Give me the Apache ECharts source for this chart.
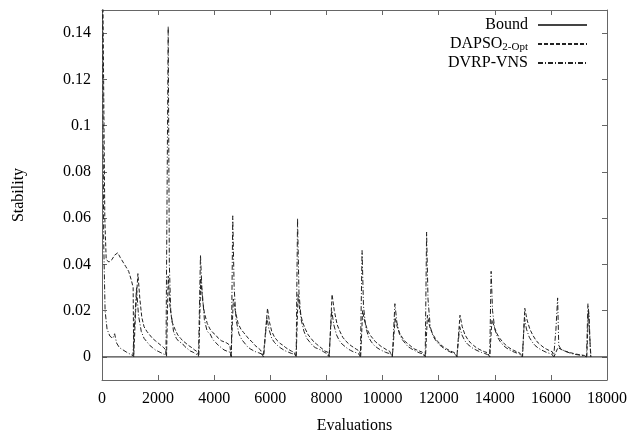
<!DOCTYPE html>
<html><head><meta charset="utf-8">
<script src="https://cdn.jsdelivr.net/npm/echarts@6/dist/echarts.min.js"></script>
<style>html,body{margin:0;padding:0;background:#fff}#c{width:642px;height:435px}</style>
</head><body><div id="c"></div>
<script>
const seriesNames = ['Bound', 'DAPSO2-Opt', 'DVRP-VNS'];
const xLabelValues = [0, 2000, 4000, 6000, 8000, 10000, 12000, 14000, 16000, 18000];
const yLabelValues = [0, 0.02, 0.04, 0.06, 0.08, 0.1, 0.12, 0.14];

const boundData = [[0, 0], [18000, 0]];

const dapsoData = [
  [0,0.2],[100,0.06],[150,0.042],[250,0.041],[350,0.042],[450,0.044],[560,0.045],[650,0.043],[750,0.041],[850,0.039],[950,0.037],[1050,0.033],[1110,0.03],[1130,0.0],
  [1150,0.0],[1200,0.02],[1280,0.036],[1350,0.025],[1420,0.017],[1500,0.013],[1600,0.011],[1700,0.0095],[1800,0.008],[1900,0.007],[2000,0.006],[2100,0.005],[2200,0.004],[2270,0.003],[2300,0.0],
  [2320,0.0],[2360,0.035],[2420,0.022],[2500,0.015],[2600,0.012],[2700,0.0095],[2800,0.008],[2900,0.0068],[3000,0.0058],[3100,0.0048],[3200,0.004],[3300,0.003],[3400,0.0022],[3450,0.0],
  [3470,0.0],[3520,0.034],[3580,0.025],[3650,0.019],[3750,0.0145],[3850,0.012],[3950,0.0105],[4050,0.0095],[4150,0.008],[4250,0.007],[4350,0.0065],[4450,0.006],[4560,0.005],[4600,0.0],
  [4620,0.0],[4680,0.025],[4750,0.02],[4850,0.0145],[4950,0.012],[5050,0.0105],[5150,0.009],[5250,0.0075],[5350,0.0065],[5450,0.005],[5550,0.004],[5650,0.003],[5750,0.0],
  [5780,0.0],[5900,0.021],[5970,0.015],[6050,0.011],[6150,0.0085],[6250,0.007],[6350,0.0058],[6450,0.005],[6550,0.004],[6650,0.0032],[6750,0.0025],[6850,0.002],[6920,0.0],
  [6940,0.0],[6990,0.027],[7050,0.02],[7150,0.015],[7250,0.012],[7350,0.0095],[7450,0.008],[7550,0.0065],[7650,0.0055],[7750,0.0045],[7850,0.0035],[7950,0.0025],[8050,0.002],[8100,0.0],
  [8120,0.0],[8200,0.027],[8280,0.02],[8380,0.014],[8480,0.011],[8580,0.0085],[8680,0.007],[8780,0.0058],[8880,0.0048],[8980,0.004],[9080,0.0032],[9180,0.0025],[9220,0.0],
  [9230,0.0],[9290,0.02],[9350,0.016],[9450,0.012],[9550,0.0095],[9650,0.008],[9750,0.0065],[9850,0.0055],[9950,0.0045],[10050,0.0038],[10150,0.003],[10250,0.0025],[10350,0.0],
  [10370,0.0],[10450,0.017],[10520,0.013],[10620,0.01],[10720,0.008],[10820,0.0065],[10920,0.0055],[11020,0.0045],[11120,0.0035],[11220,0.003],[11320,0.0025],[11420,0.002],[11530,0.0],
  [11550,0.0],[11600,0.018],[11680,0.013],[11780,0.01],[11880,0.008],[11980,0.0065],[12080,0.0052],[12180,0.0042],[12280,0.0035],[12380,0.0028],[12480,0.0022],[12580,0.0018],[12650,0.0],
  [12660,0.0],[12760,0.018],[12840,0.013],[12940,0.0095],[13040,0.0075],[13140,0.006],[13240,0.005],[13340,0.004],[13440,0.0033],[13540,0.0027],[13640,0.0022],[13740,0.0018],[13820,0.0],
  [13840,0.0],[13900,0.016],[13980,0.013],[14080,0.01],[14180,0.008],[14280,0.0065],[14380,0.0052],[14480,0.0042],[14580,0.0034],[14680,0.0028],[14780,0.0022],[14880,0.0018],[14990,0.0],
  [15010,0.0],[15070,0.021],[15150,0.016],[15250,0.012],[15350,0.0095],[15450,0.0075],[15550,0.006],[15650,0.005],[15750,0.004],[15850,0.0033],[15950,0.0027],[16050,0.0022],[16110,0.0],
  [16130,0.0],[16250,0.004],[16300,0.0035],[16400,0.003],[16500,0.0025],[16600,0.0022],[16700,0.0018],[16800,0.0015],[16900,0.0012],[17000,0.001],[17100,0.0008],[17200,0.0006],[17280,0.0],
  [17300,0.0],[17340,0.02],[17380,0.01],[17420,0.0]
];

const dvrpData = [
  [0,0.2],[60,0.05],[110,0.02],[180,0.012],[280,0.009],[380,0.008],[450,0.01],[520,0.006],[620,0.004],[750,0.003],[880,0.002],[1000,0.0012],[1100,0.0005],[1150,0.0],
  [1170,0.0],[1230,0.03],[1300,0.018],[1400,0.011],[1500,0.008],[1600,0.0065],[1700,0.005],[1800,0.004],[1900,0.003],[2000,0.0024],[2100,0.0018],[2200,0.0012],[2280,0.0008],[2310,0.0],
  [2320,0.0],[2360,0.143],[2400,0.04],[2450,0.02],[2550,0.011],[2650,0.008],[2750,0.0065],[2850,0.006],[2950,0.0045],[3050,0.0035],[3150,0.0025],[3250,0.002],[3350,0.0012],[3440,0.0008],[3460,0.0],
  [3480,0.0],[3510,0.044],[3560,0.03],[3650,0.016],[3750,0.011],[3850,0.01],[3950,0.0075],[4050,0.0062],[4150,0.005],[4250,0.004],[4350,0.003],[4450,0.0025],[4560,0.002],[4610,0.0],
  [4620,0.0],[4660,0.061],[4710,0.03],[4780,0.016],[4880,0.01],[4980,0.0075],[5080,0.006],[5180,0.0045],[5280,0.0035],[5380,0.0028],[5480,0.0022],[5580,0.0018],[5680,0.0013],[5760,0.0],
  [5780,0.0],[5880,0.017],[5950,0.012],[6050,0.008],[6150,0.0062],[6250,0.005],[6350,0.004],[6450,0.0032],[6550,0.0025],[6650,0.002],[6750,0.0015],[6850,0.0012],[6920,0.0],
  [6940,0.0],[6970,0.06],[7020,0.028],[7100,0.016],[7200,0.011],[7300,0.008],[7400,0.0065],[7500,0.005],[7600,0.004],[7700,0.0035],[7800,0.003],[7900,0.0022],[8000,0.0015],[8090,0.0],
  [8110,0.0],[8190,0.02],[8260,0.014],[8360,0.0095],[8460,0.007],[8560,0.0055],[8660,0.0045],[8760,0.0035],[8860,0.0028],[8960,0.0022],[9060,0.0018],[9160,0.0012],[9210,0.0],
  [9230,0.0],[9270,0.046],[9320,0.022],[9400,0.013],[9500,0.0085],[9600,0.0065],[9700,0.005],[9800,0.004],[9900,0.0032],[10000,0.0026],[10100,0.002],[10200,0.0016],[10300,0.0012],[10350,0.0],
  [10370,0.0],[10440,0.023],[10510,0.015],[10600,0.01],[10700,0.0075],[10800,0.006],[10900,0.0045],[11000,0.0037],[11100,0.003],[11200,0.0024],[11300,0.0018],[11400,0.0014],[11520,0.0],
  [11540,0.0],[11570,0.054],[11620,0.025],[11700,0.013],[11800,0.009],[11900,0.007],[12000,0.0055],[12100,0.0045],[12200,0.0035],[12300,0.0028],[12400,0.0022],[12500,0.0017],[12600,0.0012],[12650,0.0],
  [12660,0.0],[12750,0.013],[12830,0.0095],[12930,0.007],[13030,0.0055],[13130,0.0045],[13230,0.0036],[13330,0.003],[13430,0.0024],[13530,0.0019],[13630,0.0015],[13730,0.0011],[13820,0.0],
  [13830,0.0],[13870,0.037],[13920,0.02],[14000,0.012],[14100,0.0085],[14200,0.0065],[14300,0.005],[14400,0.004],[14500,0.0032],[14600,0.0026],[14700,0.002],[14800,0.0016],[14900,0.0012],[14980,0.0],
  [15000,0.0],[15060,0.017],[15130,0.012],[15230,0.0085],[15330,0.0065],[15430,0.005],[15530,0.004],[15630,0.0032],[15730,0.0026],[15830,0.002],[15930,0.0016],[16030,0.0012],[16100,0.0],
  [16110,0.0],[16180,0.012],[16240,0.0255],[16280,0.005],[16350,0.0035],[16450,0.0028],[16550,0.0022],[16650,0.0018],[16750,0.0014],[16850,0.0011],[16950,0.0009],[17050,0.0007],[17150,0.0005],[17270,0.0],
  [17290,0.0],[17320,0.023],[17360,0.018],[17400,0.005],[17430,0.0]
];

const FONT = 'Liberation Serif';
const AX = '#666';
const chart = echarts.init(document.getElementById('c'), null, {renderer: 'canvas'});

const tickStyle = {show: true, inside: true, length: 5, lineStyle: {color: AX, width: 1}};
const baseX = {
  type: 'value', min: 0, max: 18000, interval: 2000,
  splitLine: {show: false},
  axisLine: {show: true, onZero: false, lineStyle: {color: AX, width: 1}}
};
const baseY = {
  type: 'value', min: -0.01, max: 0.15,
  splitLine: {show: false},
  axisLine: {show: true, onZero: false, lineStyle: {color: AX, width: 1}}
};

chart.setOption({
  animation: false,
  backgroundColor: '#fff',
  grid: {left: 102, right: 35, top: 10, bottom: 55, show: false, containLabel: false, outerBoundsMode: 'none'},
  legend: {
    data: seriesNames,
    orient: 'vertical',
    right: 49, top: 12,
    align: 'right',
    itemWidth: 49, itemHeight: 10, itemGap: 2,
    itemStyle: {opacity: 0, borderWidth: 0},
    formatter: function (name) {
      if (name === 'DAPSO2-Opt') return '{n|DAPSO}{s|2-Opt}';
      return '{n|' + name + '}';
    },
    textStyle: {
      fontFamily: FONT, fontSize: 16, color: '#000', lineHeight: 16,
      padding: [0, 5, 0, 0],
      rich: {
        n: {fontFamily: FONT, fontSize: 16, color: '#000', lineHeight: 16},
        s: {fontFamily: FONT, fontSize: 11, color: '#000', lineHeight: 16, padding: [7, 0, 0, 0]}
      }
    }
  },
  xAxis: [
    Object.assign({}, baseX, {
      position: 'bottom',
      name: 'Evaluations', nameLocation: 'middle', nameGap: 38,
      nameTextStyle: {fontFamily: FONT, fontSize: 16, color: '#000'},
      axisTick: tickStyle,
      axisLabel: {
        fontFamily: FONT, fontSize: 16, color: '#000', margin: 11,
        customValues: xLabelValues,
        formatter: function (v) { return String(v); }
      }
    }),
    Object.assign({}, baseX, {
      position: 'top',
      axisTick: tickStyle,
      axisLabel: {show: false}
    })
  ],
  yAxis: [
    Object.assign({}, baseY, {
      position: 'left',
      name: 'Stability', nameLocation: 'middle', nameGap: 75,
      nameTextStyle: {fontFamily: FONT, fontSize: 16, color: '#000'},
      axisTick: Object.assign({}, tickStyle, {customValues: yLabelValues}),
      axisLabel: {
        fontFamily: FONT, fontSize: 16, color: '#000', margin: 11,
        customValues: yLabelValues,
        formatter: function (v) { return String(+v.toFixed(2)); }
      }
    }),
    Object.assign({}, baseY, {
      position: 'right',
      axisTick: Object.assign({}, tickStyle, {customValues: yLabelValues}),
      axisLabel: {show: false, customValues: yLabelValues}
    })
  ],
  series: [
    {
      name: seriesNames[0], type: 'line', data: boundData,
      symbol: 'none', clip: true,
      lineStyle: {color: '#444', width: 1.2, type: 'solid'},
      itemStyle: {color: '#444'}
    },
    {
      name: seriesNames[1], type: 'line', data: dapsoData,
      symbol: 'none', clip: true,
      lineStyle: {color: '#222', width: 1, type: [4, 2]},
      itemStyle: {color: '#222'}
    },
    {
      name: seriesNames[2], type: 'line', data: dvrpData,
      symbol: 'none', clip: true,
      lineStyle: {color: '#222', width: 1, type: [5, 2, 1, 2]},
      itemStyle: {color: '#222'}
    }
  ]
});
</script>
</body></html>
